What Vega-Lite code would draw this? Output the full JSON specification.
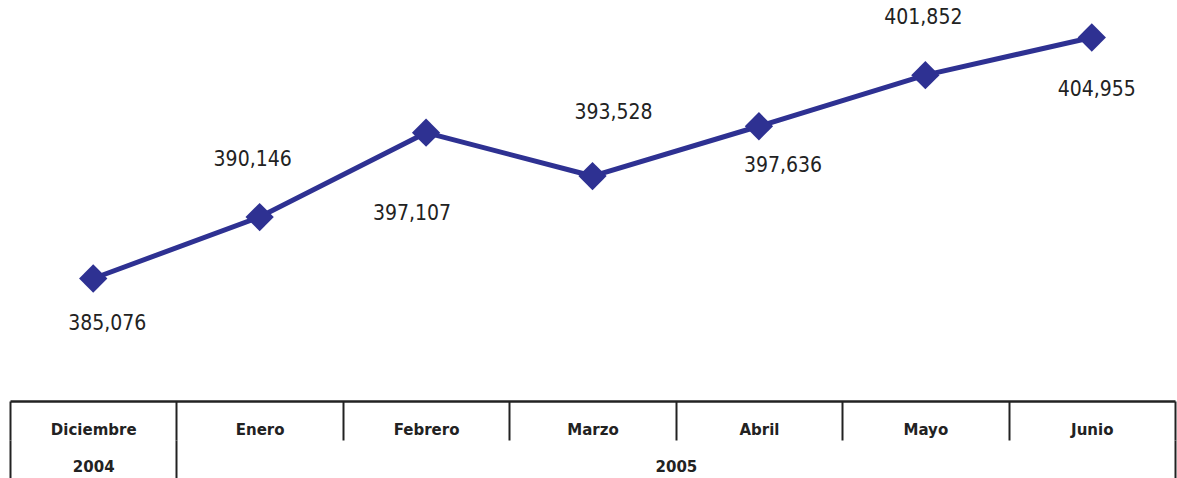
{
  "$schema": "https://vega.github.io/schema/vega-lite/v6.json",
  "width": 1165,
  "height": 401,
  "autosize": {"type": "none"},
  "padding": {"left": 10, "top": 0, "right": 2, "bottom": 77},
  "background": "white",
  "config": {"view": {"stroke": null}},
  "data": {"values": [
    {"month": "Diciembre", "year": "2004", "value": 385076},
    {"month": "Enero", "year": "2005", "value": 390146},
    {"month": "Febrero", "year": "2005", "value": 397107},
    {"month": "Marzo", "year": "2005", "value": 393528},
    {"month": "Abril", "year": "2005", "value": 397636},
    {"month": "Mayo", "year": "2005", "value": 401852},
    {"month": "Junio", "year": "2005", "value": 404955}
  ]},
  "encoding": {
    "x": {"field": "month", "type": "nominal", "sort": null,
          "scale": {"type": "band", "paddingInner": 0, "paddingOuter": 0}},
    "y": {"field": "value", "type": "quantitative",
          "scale": {"domain": [374971, 408049], "nice": false, "zero": false}, "axis": null}
  },
  "layer": [
    {
      "mark": {"type": "line", "color": "#2e3192", "strokeWidth": 5},
      "encoding": {
        "x": {"field": "month", "type": "nominal", "sort": null,
              "scale": {"type": "band", "paddingInner": 0, "paddingOuter": 0},
              "axis": {"orient": "bottom", "title": null, "offset": 0,
                       "domain": true, "domainColor": "#222222", "domainWidth": 2.5,
                       "ticks": true, "tickBand": "extent", "tickSize": 39, "tickColor": "#222222", "tickWidth": 2,
                       "labelAngle": 0, "labelFont": "DejaVu Sans", "labelFontWeight": "bold", "labelFontSize": 15,
                       "labelColor": "#222222", "labelBaseline": "middle", "labelPadding": -11,
                       "labelOverlap": false, "labelBound": false, "grid": false}}
      }
    },
    {
      "mark": {"type": "point", "shape": "diamond", "filled": true, "opacity": 1, "color": "#2e3192", "size": 800},
      "encoding": {
        "x": {"field": "month", "type": "nominal", "sort": null,
              "scale": {"type": "band", "paddingInner": 0, "paddingOuter": 0},
              "axis": {"orient": "bottom", "title": null, "offset": 39,
                       "domain": false,
                       "ticks": true, "tickBand": "extent", "tickSize": 38, "tickColor": "#222222", "tickWidth": 2,
                       "tickOpacity": {"condition": {"test": "datum.value === 'Diciembre' || datum.value === 'Junio' || !datum.value", "value": 1}, "value": 0},
                       "labelExpr": "datum.value === 'Diciembre' ? '2004' : (datum.value === 'Abril' ? '2005' : '')",
                       "labelOffset": {"condition": {"test": "datum.value === 'Abril'", "value": -83}, "value": 0},
                       "labelAngle": 0, "labelFont": "DejaVu Sans", "labelFontWeight": "bold", "labelFontSize": 15,
                       "labelColor": "#222222", "labelBaseline": "middle", "labelPadding": -11.5,
                       "labelOverlap": false, "labelBound": false, "grid": false}}
      }
    },
    {"transform": [{"filter": "datum.month === 'Diciembre'"}],
     "mark": {"type": "text", "font": "DejaVu Sans Condensed", "fontSize": 21, "color": "#222222", "baseline": "middle", "dx": 14, "dy": 46},
     "encoding": {"x": {"field": "month", "type": "nominal", "sort": null, "axis": null}, "text": {"field": "value", "type": "quantitative", "format": ","}}},
    {"transform": [{"filter": "datum.month === 'Enero'"}],
     "mark": {"type": "text", "font": "DejaVu Sans Condensed", "fontSize": 21, "color": "#222222", "baseline": "middle", "dx": -7, "dy": -57},
     "encoding": {"x": {"field": "month", "type": "nominal", "sort": null, "axis": null}, "text": {"field": "value", "type": "quantitative", "format": ","}}},
    {"transform": [{"filter": "datum.month === 'Febrero'"}],
     "mark": {"type": "text", "font": "DejaVu Sans Condensed", "fontSize": 21, "color": "#222222", "baseline": "middle", "dx": -14, "dy": 81},
     "encoding": {"x": {"field": "month", "type": "nominal", "sort": null, "axis": null}, "text": {"field": "value", "type": "quantitative", "format": ","}}},
    {"transform": [{"filter": "datum.month === 'Marzo'"}],
     "mark": {"type": "text", "font": "DejaVu Sans Condensed", "fontSize": 21, "color": "#222222", "baseline": "middle", "dx": 21, "dy": -63},
     "encoding": {"x": {"field": "month", "type": "nominal", "sort": null, "axis": null}, "text": {"field": "value", "type": "quantitative", "format": ","}}},
    {"transform": [{"filter": "datum.month === 'Abril'"}],
     "mark": {"type": "text", "font": "DejaVu Sans Condensed", "fontSize": 21, "color": "#222222", "baseline": "middle", "dx": 24, "dy": 40},
     "encoding": {"x": {"field": "month", "type": "nominal", "sort": null, "axis": null}, "text": {"field": "value", "type": "quantitative", "format": ","}}},
    {"transform": [{"filter": "datum.month === 'Mayo'"}],
     "mark": {"type": "text", "font": "DejaVu Sans Condensed", "fontSize": 21, "color": "#222222", "baseline": "middle", "dx": -2, "dy": -57},
     "encoding": {"x": {"field": "month", "type": "nominal", "sort": null, "axis": null}, "text": {"field": "value", "type": "quantitative", "format": ","}}},
    {"transform": [{"filter": "datum.month === 'Junio'"}],
     "mark": {"type": "text", "font": "DejaVu Sans Condensed", "fontSize": 21, "color": "#222222", "baseline": "middle", "dx": 5, "dy": 52},
     "encoding": {"x": {"field": "month", "type": "nominal", "sort": null, "axis": null}, "text": {"field": "value", "type": "quantitative", "format": ","}}}
  ],
  "resolve": {"axis": {"x": "independent"}}
}
